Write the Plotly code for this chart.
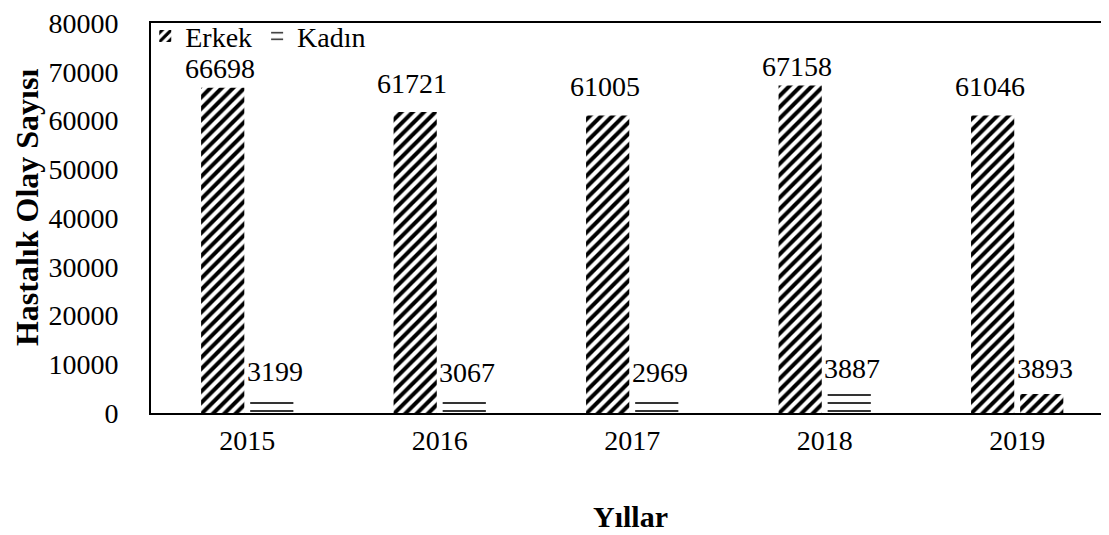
import plotly.graph_objects as go

years = ["2015", "2016", "2017", "2018", "2019"]
erkek = [66698, 61721, 61005, 67158, 61046]
kadin = [3199, 3067, 2969, 3887, 3893]

FONT = "Liberation Serif, Times New Roman, serif"
FS = 28

fig = go.Figure()
fig.add_trace(go.Bar(
    name="Erkek", x=years, y=erkek, offsetgroup="e",
    marker=dict(color="white", line=dict(width=0),
                pattern=dict(shape="/", fgcolor="black", bgcolor="white",
                             size=8, solidity=0.5, fillmode="replace")),
))
fig.add_trace(go.Bar(
    name="Kadın", x=years[:4], y=kadin[:4], offsetgroup="k",
    marker=dict(color="white", line=dict(width=0),
                pattern=dict(shape="-", fgcolor="black", bgcolor="white",
                             size=8, solidity=0.2, fillmode="replace")),
))
fig.add_trace(go.Bar(
    name="Kadın", x=years[4:], y=kadin[4:], offsetgroup="k", showlegend=False,
    marker=dict(color="white", line=dict(width=0),
                pattern=dict(shape="/", fgcolor="black", bgcolor="white",
                             size=8, solidity=0.5, fillmode="replace")),
))

annotations = []
for i, v in enumerate(erkek):
    annotations.append(dict(x=i, y=v, xref="x", yref="y", text=str(v), showarrow=False,
                            xshift=-27.5, yshift=19 if v > 65000 else 29, yanchor="middle",
                            font=dict(family=FONT, size=FS, color="black")))
for i, v in enumerate(kadin):
    annotations.append(dict(x=i, y=v, xref="x", yref="y", text=str(v), showarrow=False,
                            xshift=27.5, yshift=26, yanchor="middle",
                            font=dict(family=FONT, size=FS, color="black")))
annotations.append(dict(x=0.5, y=-0.265, xref="paper", yref="paper", text="<b>Yıllar</b>",
                        showarrow=False, xanchor="center", yanchor="middle",
                        font=dict(family=FONT, size=30, color="black")))
annotations.append(dict(x=0, y=0.528, xref="paper", yref="paper",
                        text="<b>Hastalık Olay Sayısı</b>", textangle=-90,
                        showarrow=False, xanchor="center", yanchor="middle", xshift=-124,
                        font=dict(family=FONT, size=32, color="black")))

fig.update_layout(
    width=1101, height=527,
    margin=dict(l=143, r=0, t=11, b=122),
    paper_bgcolor="white", plot_bgcolor="white",
    barmode="group", bargap=0.49, bargroupgap=0.12,
    font=dict(family=FONT, size=FS, color="black"),
    showlegend=True,
    legend=dict(orientation="h", x=-0.006, y=1.03, xanchor="left", yanchor="top",
                bgcolor="rgba(0,0,0,0)", font=dict(family=FONT, size=FS, color="black")),
    annotations=annotations,
    xaxis=dict(
        type="category", range=[-0.5, 4.477], showline=True, linecolor="black", linewidth=2,
        mirror=True, showgrid=False, zeroline=False, ticks="", ticklabelstandoff=1,
        tickfont=dict(family=FONT, size=FS),
    ),
    yaxis=dict(
        range=[0, 80000], dtick=10000, tickformat="d", showline=True, linecolor="black",
        linewidth=2, showgrid=False, zeroline=False, ticks="outside", ticklen=25,
        tickcolor="rgba(0,0,0,0)", ticklabeloverflow="allow",
        tickfont=dict(family=FONT, size=FS),
    ),
)

fig.write_html("out.html")
